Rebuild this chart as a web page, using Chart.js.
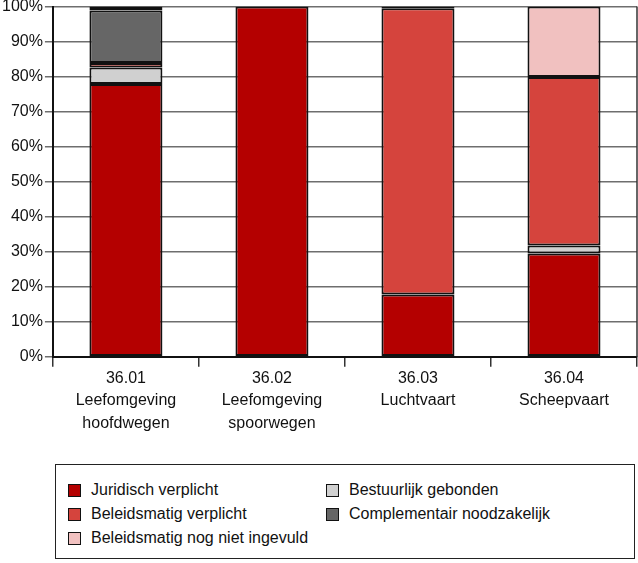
<!DOCTYPE html>
<html>
<head>
<meta charset="utf-8">
<script src="https://cdn.jsdelivr.net/npm/chart.js@4/dist/chart.umd.min.js"></script>
<style>
  html, body { margin: 0; padding: 0; background: #fff; }
  body { width: 638px; height: 563px; position: relative; font-family: "Liberation Sans", Arial, sans-serif; overflow: hidden; }
  #wrap { position: absolute; left: 0; top: -5px; width: 638px; height: 440px; }
  #legend {
    position: absolute; left: 55px; top: 464px; width: 580px; height: 95px;
    border: 1.5px solid #222; box-sizing: border-box;
    display: grid; grid-template-columns: 258px 300px; grid-auto-rows: 24px;
    padding: 13px 0 0 12px; font-size: 16px; color: #111;
  }
  .item { display: flex; align-items: center; white-space: nowrap; }
  .sw { width: 11px; height: 11px; border: 1.5px solid #111; margin-right: 10px; flex: none; }
</style>
</head>
<body>
<div id="wrap"><canvas id="chart"></canvas></div>
<div id="legend"></div>
<script>
const CATEGORIES = [
  ['36.01', 'Leefomgeving', 'hoofdwegen'],
  ['36.02', 'Leefomgeving', 'spoorwegen'],
  ['36.03', 'Luchtvaart'],
  ['36.04', 'Scheepvaart'],
];
const Y_TICKS = [0, 10, 20, 30, 40, 50, 60, 70, 80, 90, 100];

const SERIES_NAMES = [
  'Juridisch verplicht',
  'Bestuurlijk gebonden',
  'Beleidsmatig verplicht',
  'Complementair noodzakelijk',
  'Beleidsmatig nog niet ingevuld',
];
const SERIES_COLORS = ['#b40000', '#d0d0d0', '#d5443d', '#666666', '#f1c1c0'];

const juridisch = [77.9, 100, 17.8, 29.5];
const bestuurlijk = [4.7, 0, 0, 2.3];
const beleidsmatig = [1.3, 0, 81.7, 48.1];
const complementair = [15.0, 0, 0.5, 0];
const nogNiet = [1.1, 0, 0, 20.1];
const SERIES_VALUES = [juridisch, bestuurlijk, beleidsmatig, complementair, nogNiet];

const FONT = { family: '"Liberation Sans", Arial, sans-serif', size: 16 };

// right-hand frame line of the plot
const frame = {
  id: 'frame',
  afterDraw(chart) {
    const { ctx, chartArea: a } = chart;
    ctx.save();
    ctx.strokeStyle = '#333';
    ctx.lineWidth = 1.5;
    ctx.beginPath();
    ctx.moveTo(a.right, a.top);
    ctx.lineTo(a.right, a.bottom);
    ctx.stroke();
    ctx.restore();
  }
};

const chart = new Chart(document.getElementById('chart'), {
  type: 'bar',
  data: {
    labels: CATEGORIES,
    datasets: SERIES_NAMES.map((name, i) => ({
      label: name,
      data: SERIES_VALUES[i],
      backgroundColor: SERIES_COLORS[i],
      borderColor: '#111',
      borderWidth: 2,
      borderSkipped: false,
      categoryPercentage: 1,
      barPercentage: 0.5,
    })),
  },
  options: {
    responsive: true,
    maintainAspectRatio: false,
    animation: false,
    layout: { padding: { top: 0, right: 1, left: 0, bottom: 0 } },
    plugins: { legend: { display: false }, tooltip: { enabled: false } },
    scales: {
      x: {
        stacked: true,
        offset: true,
        grid: { offset: true, drawOnChartArea: false, color: '#333', lineWidth: 1.5, tickLength: 10 },
        border: { color: '#111', width: 2 },
        ticks: { color: '#111', font: { ...FONT, lineHeight: 1.42 }, padding: 0, maxRotation: 0 },
      },
      y: {
        stacked: true,
        min: 0,
        max: 100,
        afterBuildTicks(axis) { axis.ticks = Y_TICKS.map(v => ({ value: v })); },
        grid: { color: '#6e6e6e', lineWidth: 1.5, tickLength: 8 },
        border: { color: '#111', width: 2 },
        ticks: { color: '#111', font: FONT, padding: 2, callback: v => v + '%' },
      },
    },
  },
  plugins: [frame],
});

const legend = document.getElementById('legend');
SERIES_NAMES.forEach((name, i) => {
  const item = document.createElement('div');
  item.className = 'item';
  const sw = document.createElement('span');
  sw.className = 'sw';
  sw.style.background = SERIES_COLORS[i];
  const txt = document.createElement('span');
  txt.textContent = name;
  item.appendChild(sw);
  item.appendChild(txt);
  legend.appendChild(item);
});
</script>
</body>
</html>
